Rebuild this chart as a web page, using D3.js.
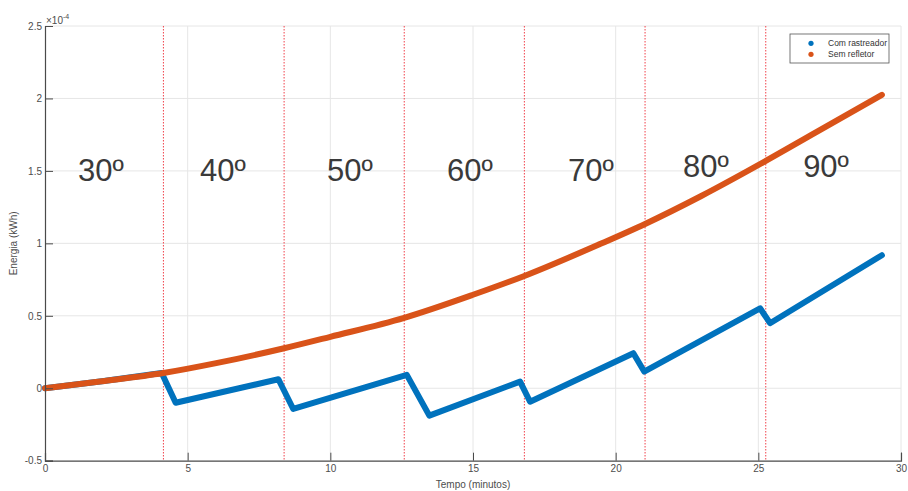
<!DOCTYPE html>
<html>
<head>
<meta charset="utf-8">
<script src="https://cdn.jsdelivr.net/npm/d3@7"></script>
<style>
  html, body { margin: 0; padding: 0; background: #fff; }
  svg { display: block; font-family: "Liberation Sans", Arial, Helvetica, sans-serif; }
</style>
</head>
<body>
<svg id="chart" width="908" height="491"></svg>
<script>
// Energy over time (values in units of 1e-4 kWh)
const trackerTime   = [0, 2, 4.09, 4.58, 8.18, 8.70, 12.68, 13.47, 16.65, 17.0, 20.62, 21.0, 25.06, 25.41, 29.33];
const trackerEnergy = [0, 0.048, 0.105, -0.10, 0.062, -0.143, 0.092, -0.189, 0.046, -0.093, 0.242, 0.115, 0.552, 0.449, 0.918];

const plainTime   = [0, 2, 4.15, 6, 8.38, 10, 12.59, 15, 16.8, 19.45, 21.03, 23, 25.26, 27, 29.33];
const plainEnergy = [0, 0.048, 0.105, 0.173, 0.276, 0.355, 0.486, 0.645, 0.775, 0.995, 1.134, 1.327, 1.569, 1.764, 2.025];

// Instants where the tracker angle changes
const angleChangeTimes = [4.15, 8.38, 12.59, 16.8, 21.03, 25.26];
const angleLabels = ["30º", "40º", "50º", "60º", "70º", "80º", "90º"];
const angleLabelTime = [1.16, 5.43, 9.88, 14.09, 18.33, 22.36, 26.57];

const seriesNames = ["Com rastreador", "Sem refletor"];
const xTicks = [0, 5, 10, 15, 20, 25, 30];
const yTicks = [-0.5, 0, 0.5, 1, 1.5, 2, 2.5];

const svg = d3.select("#chart");
const plotLeft = 45, plotRight = 901, plotTop = 26, plotBottom = 460.7;

const x = d3.scaleLinear().domain([0, 30]).range([plotLeft, plotRight]);
const y = d3.scaleLinear().domain([-0.5, 2.5]).range([plotBottom, plotTop]);

const axisColor = "#4a4a4a";
const textColor = "#4d4d4d";

// grid
const grid = svg.append("g").attr("stroke", "#e6e6e6").attr("stroke-width", 1);
grid.selectAll("line.gx").data(xTicks.slice(1)).join("line")
  .attr("x1", d => x(d)).attr("x2", d => x(d)).attr("y1", plotTop).attr("y2", plotBottom);
grid.selectAll("line.gy").data(yTicks.slice(1)).join("line")
  .attr("x1", plotLeft).attr("x2", plotRight).attr("y1", d => y(d)).attr("y2", d => y(d));

// angle change markers
svg.append("g").selectAll("line").data(angleChangeTimes).join("line")
  .attr("x1", d => x(d)).attr("x2", d => x(d)).attr("y1", plotTop).attr("y2", plotBottom)
  .attr("stroke", "#f0404a").attr("stroke-width", 1).attr("stroke-dasharray", "1.5,1.5");

// angle labels
svg.append("g").selectAll("text").data(angleLabels).join("text")
  .attr("x", (d, i) => x(angleLabelTime[i]))
  .attr("y", (d, i) => i >= 5 ? 177 : 181)
  .attr("font-size", 31).attr("fill", "#3a3a3a")
  .text(d => d);

// series
const trackerData = trackerTime.map((t, i) => [t, trackerEnergy[i]]);
const plainData = plainTime.map((t, i) => [t, plainEnergy[i]]);

svg.append("path").datum(trackerData)
  .attr("fill", "none").attr("stroke", "#0072BD").attr("stroke-width", 6)
  .attr("stroke-linejoin", "round").attr("stroke-linecap", "round")
  .attr("d", d3.line().x(d => x(d[0])).y(d => y(d[1])));

svg.append("path").datum(plainData)
  .attr("fill", "none").attr("stroke", "#D95319").attr("stroke-width", 6)
  .attr("stroke-linejoin", "round").attr("stroke-linecap", "round")
  .attr("d", d3.line().curve(d3.curveMonotoneX).x(d => x(d[0])).y(d => y(d[1])));

// axes
const xAxis = svg.append("g").attr("transform", `translate(0,${plotBottom})`)
  .call(d3.axisBottom(x).tickValues(xTicks).tickFormat(d3.format("d")).tickSize(-8).tickPadding(4));
const yAxis = svg.append("g").attr("transform", `translate(${plotLeft},0)`)
  .call(d3.axisLeft(y).tickValues(yTicks).tickFormat(d => String(d)).tickSize(-8).tickPadding(3));
[xAxis, yAxis].forEach(a => {
  a.select(".domain").attr("stroke", axisColor).attr("stroke-width", 1.2);
  a.selectAll(".tick line").attr("stroke", axisColor).attr("stroke-width", 1);
  a.selectAll(".tick text").attr("fill", textColor).attr("font-size", 10)
    .attr("font-family", "Liberation Sans, Arial, sans-serif");
});

// exponent
const expo = svg.append("text").attr("x", plotLeft + 1).attr("y", 24).attr("fill", textColor).attr("font-size", 10);
expo.append("tspan").text("×10");
expo.append("tspan").attr("font-size", 7).attr("dy", -5).text("-4");

// axis titles
svg.append("text").attr("x", (plotLeft + plotRight) / 2).attr("y", 488).attr("text-anchor", "middle")
  .attr("fill", textColor).attr("font-size", 10).text("Tempo (minutos)");
svg.append("text").attr("transform", `translate(17,${(plotTop + plotBottom) / 2}) rotate(-90)`)
  .attr("text-anchor", "middle").attr("fill", textColor).attr("font-size", 10).text("Energia (kWh)");

// legend
const lg = svg.append("g").attr("transform", "translate(790,34)");
lg.append("rect").attr("width", 99).attr("height", 29).attr("fill", "#fff")
  .attr("stroke", "#555").attr("stroke-width", 0.8);
const colors = ["#0072BD", "#D95319"];
seriesNames.forEach((name, i) => {
  lg.append("circle").attr("cx", 21).attr("cy", 9.3 + i * 11).attr("r", 2.6).attr("fill", colors[i]);
  lg.append("text").attr("x", 38).attr("y", 12.3 + i * 11).attr("font-size", 8.5)
    .attr("fill", "#333").text(name);
});
</script>
</body>
</html>
